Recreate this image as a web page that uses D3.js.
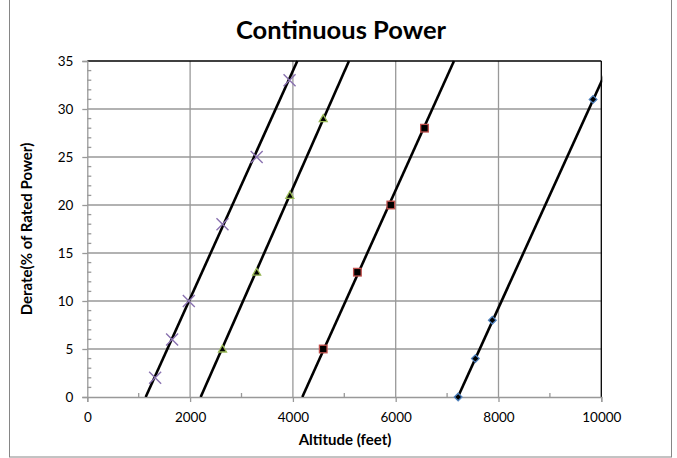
<!DOCTYPE html>
<html>
<head>
<meta charset="utf-8">
<script src="https://cdn.jsdelivr.net/npm/d3@7"></script>
<style>
  html, body { margin: 0; padding: 0; background: #fff; }
  svg { display: block; }
</style>
</head>
<body>
<svg id="chart" width="677" height="458"></svg>
<script>
// ---- data ----
const chartTitle = "Continuous Power";
const xAxisTitle = "Altitude (feet)";
const yAxisTitle = "Derate(% of Rated Power)";
const xTicks = [0, 2000, 4000, 6000, 8000, 10000];
const yTicks = [0, 5, 10, 15, 20, 25, 30, 35];

const seriesNames = ["A", "B", "C", "D"];
// series 1 (purple X)
const s1Alt = [1320, 1650, 1975, 2630, 3295, 3935];
const s1Derate = [2, 6, 10, 18, 25, 33];
// series 2 (green triangle)
const s2Alt = [2630, 3295, 3940, 4590];
const s2Derate = [5, 13, 21, 29];
// series 3 (red square)
const s3Alt = [4590, 5255, 5905, 6560];
const s3Derate = [5, 13, 20, 28];
// series 4 (blue diamond)
const s4Alt = [7215, 7550, 7880, 9840];
const s4Derate = [0, 4, 8, 31];

// straight lines through each series: altitude at 0 % and at 35 % derate
const lineAltAt0 = [1136, 2206, 4183, 7210];
const lineAltAt35 = [4086, 5091, 7134, 10185];
const lineDerateLo = 0, lineDerateHi = 35;

// ---- layout ----
const svg = d3.select("#chart");
const pL = 87.3, pR = 601.3, pT = 61, pB = 397;
const x = d3.scaleLinear().domain([0, 10000]).range([pL, pR]);
const y = d3.scaleLinear().domain([0, 35]).range([pB, pT]);

const font = "Lato, 'Open Sans', sans-serif";

// outer frame
svg.append("rect").attr("x", 9.5).attr("y", -5).attr("width", 662).attr("height", 462)
  .attr("fill", "#fff").attr("stroke", "#868686").attr("stroke-width", 1);

// title
svg.append("text").attr("x", 341).attr("y", 38.5).attr("text-anchor", "middle")
  .attr("font-family", font).attr("font-weight", "bold").attr("font-size", 25.5)
  .attr("fill", "#000").text(chartTitle);

const gridColor = "#999999";
// gridlines
svg.append("g").selectAll("line").data(xTicks.filter(d => d > 0 && d < 10000)).join("line")
  .attr("x1", d => x(d)).attr("x2", d => x(d)).attr("y1", pT).attr("y2", pB)
  .attr("stroke", gridColor).attr("stroke-width", 1.3);
svg.append("g").selectAll("line").data(yTicks.filter(d => d > 0 && d < 35)).join("line")
  .attr("x1", pL).attr("x2", pR).attr("y1", d => y(d)).attr("y2", d => y(d))
  .attr("stroke", gridColor).attr("stroke-width", 1.3);

// plot border top / right (black)
svg.append("line").attr("x1", pL).attr("x2", pR).attr("y1", pT).attr("y2", pT)
  .attr("stroke", "#000").attr("stroke-width", 1.3);
svg.append("line").attr("x1", pR).attr("x2", pR).attr("y1", pT).attr("y2", pB)
  .attr("stroke", "#000").attr("stroke-width", 1.3);

// axes
const xAxis = d3.axisBottom(x).tickValues(xTicks).tickSizeOuter(0).tickSize(5).tickPadding(10)
  .tickFormat(d3.format("d"));
const gx = svg.append("g").attr("transform", `translate(0,${pB})`).call(xAxis);
const yAxis = d3.axisLeft(y).tickValues(yTicks).tickSizeOuter(0).tickSize(5).tickPadding(9);
const gy = svg.append("g").attr("transform", `translate(${pL},0)`).call(yAxis);
[gx, gy].forEach(g => {
  g.select(".domain").attr("stroke", gridColor).attr("stroke-width", 1.3);
  g.selectAll(".tick line").attr("stroke", gridColor).attr("stroke-width", 1.3);
  g.selectAll(".tick text").attr("font-family", font).attr("font-size", 13.5).attr("fill", "#000");
});

// minor ticks (inside)
const xMinor = d3.range(1000, 10000, 2000);
svg.append("g").selectAll("line").data(xMinor).join("line")
  .attr("x1", d => x(d)).attr("x2", d => x(d)).attr("y1", pB).attr("y2", pB - 4)
  .attr("stroke", gridColor).attr("stroke-width", 1.3);
const yMinor = d3.range(1, 35).filter(d => d % 5 !== 0);
svg.append("g").selectAll("line").data(yMinor).join("line")
  .attr("x1", pL).attr("x2", pL + 4).attr("y1", d => y(d)).attr("y2", d => y(d))
  .attr("stroke", gridColor).attr("stroke-width", 1.3);

// axis titles
svg.append("text").attr("x", 345).attr("y", 445).attr("text-anchor", "middle")
  .attr("font-family", font).attr("font-weight", "bold").attr("font-size", 15)
  .attr("fill", "#000").text(xAxisTitle);
svg.append("text").attr("transform", `translate(31.5,229) rotate(-90)`).attr("text-anchor", "middle")
  .attr("font-family", font).attr("font-weight", "bold").attr("font-size", 15)
  .attr("fill", "#000").text(yAxisTitle);

// clip
svg.append("clipPath").attr("id", "plotclip").append("rect")
  .attr("x", pL).attr("y", pT - 1).attr("width", pR - pL + 1).attr("height", pB - pT + 1);

// lines
const lineData = lineAltAt0.map((a, i) => [[a, lineDerateLo], [lineAltAt35[i], lineDerateHi]]);
const lineGen = d3.line().x(d => x(d[0])).y(d => y(d[1]));
svg.append("g").attr("clip-path", "url(#plotclip)").selectAll("path").data(lineData).join("path")
  .attr("d", lineGen).attr("fill", "none").attr("stroke", "#000").attr("stroke-width", 2.6);

const zip = (a, b) => a.map((v, i) => [v, b[i]]);

// series 1: X markers
svg.append("g").selectAll("path").data(zip(s1Alt, s1Derate)).join("path")
  .attr("transform", d => `translate(${x(d[0])},${y(d[1])})`)
  .attr("d", "M-6,-6L6,6M-6,6L6,-6")
  .attr("stroke", "#8a72b0").attr("stroke-width", 1.4).attr("fill", "none");

// series 2: triangles
svg.append("g").selectAll("path").data(zip(s2Alt, s2Derate)).join("path")
  .attr("transform", d => `translate(${x(d[0])},${y(d[1])})`)
  .attr("d", "M0,-4L4,3L-4,3Z")
  .attr("stroke", "#9bbb59").attr("stroke-width", 1.3).attr("fill", "#000");

// series 3: squares
svg.append("g").selectAll("rect").data(zip(s3Alt, s3Derate)).join("rect")
  .attr("x", d => x(d[0]) - 3.8).attr("y", d => y(d[1]) - 3.8)
  .attr("width", 7.6).attr("height", 7.6)
  .attr("stroke", "#c0504d").attr("stroke-width", 1.3).attr("fill", "#000");

// series 4: diamonds
svg.append("g").selectAll("path").data(zip(s4Alt, s4Derate)).join("path")
  .attr("transform", d => `translate(${x(d[0])},${y(d[1])})`)
  .attr("d", "M0,-3.8L3.8,0L0,3.8L-3.8,0Z")
  .attr("stroke", "#4f81bd").attr("stroke-width", 1.3).attr("fill", "#000");
</script>
</body>
</html>
